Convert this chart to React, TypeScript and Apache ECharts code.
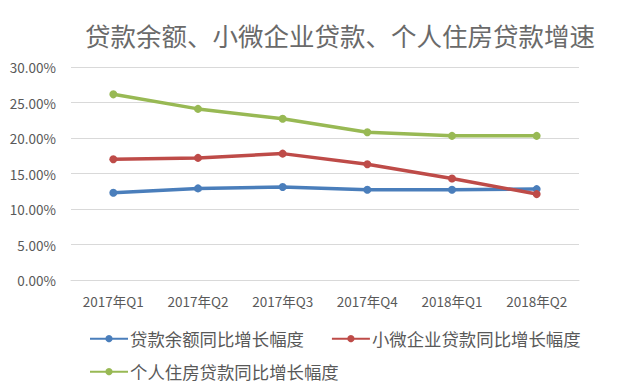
import React, { useEffect, useRef } from "react";
import * as echarts from "echarts";

const categories = ["2017年Q1", "2017年Q2", "2017年Q3", "2017年Q4", "2018年Q1", "2018年Q2"];
const seriesNames = ["贷款余额同比增长幅度", "小微企业贷款同比增长幅度", "个人住房贷款同比增长幅度"];
const loanBalance = [0.123, 0.129, 0.131, 0.127, 0.127, 0.128];
const smallMicro = [0.170, 0.172, 0.178, 0.163, 0.143, 0.121];
const housing = [0.2615, 0.241, 0.227, 0.208, 0.203, 0.203];
const colors = ["#4a7ebb", "#be4b48", "#98b954"];
const titleText = "贷款余额、小微企业贷款、个人住房贷款增速";

const FONT = "'Noto Sans CJK SC', 'Microsoft YaHei', sans-serif";

export default function App() {
  const ref = useRef<HTMLDivElement>(null);
  useEffect(() => {
    document.body.style.margin = "0";
    const chart = echarts.init(ref.current!, null, { renderer: "svg" });
    const values = [loanBalance, smallMicro, housing];
    chart.setOption({
      animation: false,
      backgroundColor: "#ffffff",
      textStyle: { fontFamily: FONT },
      title: {
        text: titleText,
        left: 80,
        top: 17,
        textStyle: { fontFamily: FONT, fontSize: 25.5, fontWeight: "normal", color: "#6a6a6a" },
      },
      grid: { left: 71, right: 63, top: 67, bottom: 111 },
      legend: [
        {
          data: [seriesNames[0], seriesNames[1]],
          left: 84,
          top: 325,
          itemWidth: 38,
          itemHeight: 9,
          itemGap: 27,
          textStyle: { fontFamily: FONT, fontSize: 17.4, color: "#595959", padding: [0, 0, 0, -3] },
        },
        {
          data: [seriesNames[2]],
          left: 84,
          top: 358,
          itemWidth: 38,
          itemHeight: 9,
          textStyle: { fontFamily: FONT, fontSize: 17.4, color: "#595959", padding: [0, 0, 0, -3] },
        },
      ],
      xAxis: {
        type: "category",
        data: categories,
        boundaryGap: true,
        axisLine: { show: true, lineStyle: { color: "#d9d9d9", width: 1 } },
        axisTick: { show: false },
        axisLabel: { color: "#595959", fontSize: 13.5, margin: 14, fontFamily: FONT, interval: 0 },
      },
      yAxis: {
        type: "value",
        min: 0,
        max: 0.3,
        interval: 0.05,
        axisLine: { show: false },
        axisTick: { show: false },
        splitLine: { lineStyle: { color: "#d9d9d9", width: 1 } },
        axisLabel: {
          color: "#595959",
          fontSize: 13.5,
          margin: 15,
          fontFamily: FONT,
          formatter: (v: number) => (v * 100).toFixed(2) + "%",
        },
      },
      series: seriesNames.map((name, i) => ({
        name,
        type: "line",
        data: values[i],
        symbol: "circle",
        symbolSize: 8,
        lineStyle: { color: colors[i], width: 3.5 },
        itemStyle: { color: colors[i] },
      })),
    });
    return () => chart.dispose();
  }, []);
  return <div ref={ref} style={{ position: "fixed", left: 0, top: 0, width: 642, height: 391 }} />;
}
